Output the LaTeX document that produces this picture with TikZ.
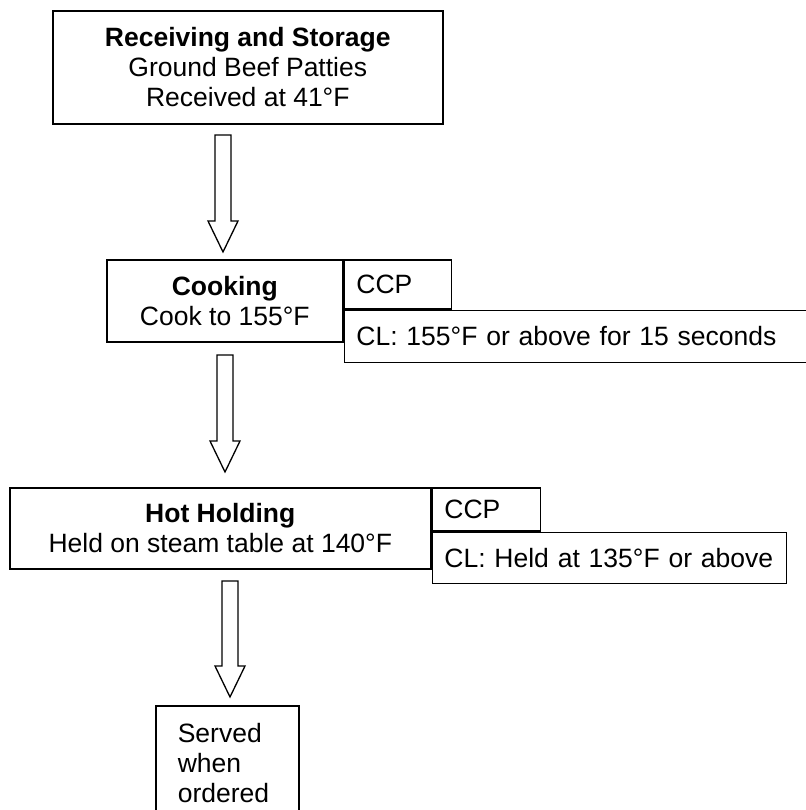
\documentclass[tikz,border=0pt]{standalone}
\usepackage{fontspec}
\setmainfont{Liberation Sans}
\usetikzlibrary{calc}

% hollow block arrow from the top of its shaft (#1) down to its tip (#2)
\newcommand{\blockarrow}[2]{%
  \draw[blockarr] ($(#1)+(-8,0)$) -- ($(#2)+(-8,-31)$) -- ($(#2)+(-15,-31)$) -- (#2)
    -- ($(#2)+(15,-31)$) -- ($(#2)+(8,-31)$) -- ($(#1)+(8,0)$) -- cycle;}

\begin{document}
\begin{tikzpicture}[x=1pt,y=-1pt,font=\fontsize{26.5}{30}\selectfont]
\tikzstyle{box}=[rectangle, draw=black, line width=1.6pt, inner sep=0pt, anchor=north west]
\tikzstyle{stage}=[box, align=center]
\tikzstyle{tag}=[box, align=left, inner xsep=12pt]
\tikzstyle{blockarr}=[draw=black, line width=1.3pt, line join=miter]
\useasboundingbox (0,0) rectangle (805,810);
\node (recv) [stage, minimum width=390pt, minimum height=113pt] at (52,10)
  {\textbf{Receiving and Storage}\\Ground Beef Patties\\Received at 41°F};
\node (cook) [stage, minimum width=236pt, minimum height=82pt] at (106,259)
  {\textbf{Cooking}\\Cook to 155°F};
\node (ccp1) [tag, text width=83pt, minimum height=49pt] at (cook.north east) {CCP};
\node (cl1) [tag, text width=442pt, minimum height=52pt] at (ccp1.south west)
  {CL: 155°F or above for 15 seconds};
\node (hold) [stage, minimum width=421pt, minimum height=81pt] at (9,487)
  {\textbf{Hot Holding}\\Held on steam table at 140°F};
\node (ccp2) [tag, text width=84pt, minimum height=43pt] at (hold.north east) {CCP};
\node (cl2) [tag, text width=330pt, minimum height=51pt] at (ccp2.south west)
  {CL: Held at 135°F or above};
\node (serve) [box, align=left, text width=99pt, inner xsep=22pt, inner ysep=17pt] at (155,705)
  {Served\\when\\ordered};
% arrows between the steps
\coordinate (a1s) at (223,135);
\coordinate (a1e) at (223,252);
\coordinate (a2s) at (225,355);
\coordinate (a2e) at (225,472);
\coordinate (a3s) at (230,581);
\coordinate (a3e) at (230,697);
\blockarrow{a1s}{a1e}
\blockarrow{a2s}{a2e}
\blockarrow{a3s}{a3e}
\end{tikzpicture}
\end{document}
